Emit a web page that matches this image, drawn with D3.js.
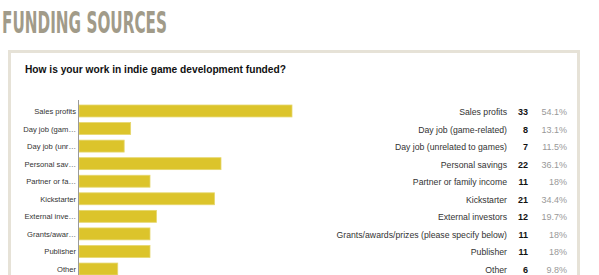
<!DOCTYPE html>
<html><head><meta charset="utf-8">
<script src="https://cdn.jsdelivr.net/npm/d3@7"></script>
<style>html,body{margin:0;padding:0;background:#fff;overflow:hidden}</style>
</head><body>
<script>
const categories = ["Sales profits","Day job (game-related)","Day job (unrelated to games)","Personal savings","Partner or family income","Kickstarter","External investors","Grants/awards/prizes (please specify below)","Publisher","Other"];
const shortLabels = ["Sales profits","Day job (gam\u2026","Day job (unr\u2026","Personal sav\u2026","Partner or fa\u2026","Kickstarter","External inve\u2026","Grants/awar\u2026","Publisher","Other"];
const counts = [33,8,7,22,11,21,12,11,11,6];
const percents = ["54.1%","13.1%","11.5%","36.1%","18%","34.4%","19.7%","18%","18%","9.8%"];

const W = 599, H = 275;
const svg = d3.select("body").append("svg").attr("width", W).attr("height", H);
svg.append("rect").attr("width", W).attr("height", H).attr("fill", "#fff");

svg.append("text").attr("x", 2).attr("y", 33)
  .attr("font-family", "'Liberation Sans Narrow','DejaVu Sans Condensed',sans-serif")
  .attr("font-weight", "bold").attr("font-size", 31)
  .attr("fill", "#a19b89")
  .attr("textLength", 165).attr("lengthAdjust", "spacingAndGlyphs")
  .text("FUNDING SOURCES");

// box
svg.append("rect").attr("x", 9.5).attr("y", 51.5).attr("width", 569).attr("height", 240)
  .attr("fill", "#fff").attr("stroke", "#e6e2d7").attr("stroke-width", 3);

svg.append("text").attr("x", 25).attr("y", 73)
  .attr("font-family", "'Liberation Sans',Arial,sans-serif").attr("font-weight", "bold")
  .attr("font-size", 10.2).attr("fill", "#111")
  .text("How is your work in indie game development funded?");

const y = d3.scaleBand().domain(categories).range([102.2, 277.8]).paddingInner(0.32).paddingOuter(0.16);
const x = d3.scaleLinear().domain([0, 33]).range([79, 292]);

svg.append("g").selectAll("rect").data(categories).join("rect")
  .attr("x", x(0)).attr("y", d => y(d))
  .attr("width", (d,i) => x(counts[i]) - x(0)).attr("height", y.bandwidth())
  .attr("fill", "#dcc42b").attr("stroke", "#e6d76e").attr("stroke-width", 0.8);

svg.append("line").attr("x1", 78.5).attr("x2", 78.5).attr("y1", 100).attr("y2", 275)
  .attr("stroke", "#9a9a9a").attr("stroke-width", 1);

const font = "'Liberation Sans',Arial,Helvetica,sans-serif";
svg.append("g").selectAll("text").data(categories).join("text")
  .attr("x", 76).attr("y", d => y(d) + y.bandwidth()/2 + 3)
  .attr("text-anchor", "end").attr("font-family", font).attr("font-size", 7.6)
  .attr("fill", "#333").text((d,i) => shortLabels[i]);

svg.append("g").selectAll("text").data(categories).join("text")
  .attr("x", 507).attr("y", d => y(d) + y.bandwidth()/2 + 4)
  .attr("text-anchor", "end").attr("font-family", font).attr("font-size", 8.7)
  .attr("fill", "#333").text(d => d);

svg.append("g").selectAll("text").data(categories).join("text")
  .attr("x", 528).attr("y", d => y(d) + y.bandwidth()/2 + 4)
  .attr("text-anchor", "end").attr("font-family", font).attr("font-size", 9)
  .attr("font-weight", "bold").attr("fill", "#111").text((d,i) => counts[i]);

svg.append("g").selectAll("text").data(categories).join("text")
  .attr("x", 567).attr("y", d => y(d) + y.bandwidth()/2 + 4)
  .attr("text-anchor", "end").attr("font-family", font).attr("font-size", 9)
  .attr("fill", "#999").text((d,i) => percents[i]);
</script>
</body></html>
